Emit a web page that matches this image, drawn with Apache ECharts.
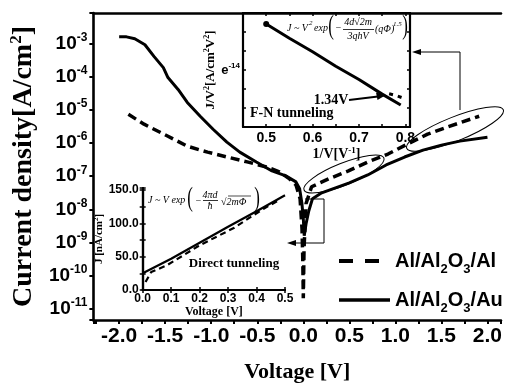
<!DOCTYPE html>
<html><head><meta charset="utf-8">
<script src="https://cdn.jsdelivr.net/npm/echarts@6/dist/echarts.min.js"></script>
<style>html,body{margin:0;padding:0;background:#fff}#c{width:505px;height:388px}</style>
</head><body><div id="c"></div>
<script>
// ---- main I-V data (current density in A/cm^2) ----
const auV = [-2.0, -1.92, -1.83, -1.72, -1.62, -1.52, -1.47, -1.36, -1.26, -1.12, -0.98, -0.83, -0.69, -0.51, -0.34, -0.19, -0.08, -0.04, -0.015, 0.0, 0.01, 0.03, 0.06, 0.1, 0.2, 0.35, 0.5, 0.7, 0.9, 1.1, 1.3, 1.5, 1.7, 2.0];
const auJ = [1.58e-3, 1.58e-3, 1.38e-3, 9.1e-4, 4.0e-4, 1.87e-4, 9.4e-5, 4.1e-5, 1.67e-5, 6.4e-6, 2.6e-6, 1.06e-6, 5.3e-7, 2.68e-7, 1.44e-7, 1.02e-7, 6.75e-8, 4.2e-8, 1.5e-8, 5.3e-9, 1.6e-9, 3.7e-9, 9.1e-9, 2.1e-8, 3.16e-8, 4.46e-8, 6.3e-8, 1.09e-7, 2.18e-7, 3.78e-7, 6.12e-7, 8.63e-7, 1.14e-6, 1.5e-6];
const alV = [-1.9, -1.73, -1.47, -1.26, -1.04, -0.83, -0.61, -0.40, -0.26, -0.15, -0.08, -0.035, -0.014, -0.006, 0.0, 0.008, 0.03, 0.09, 0.275, 0.49, 0.70, 0.92, 1.13, 1.35, 1.56, 1.91];
const alJ = [7.3e-6, 3.7e-6, 1.6e-6, 8.0e-7, 5.3e-7, 3.8e-7, 2.7e-7, 1.9e-7, 1.35e-7, 8.3e-8, 5.5e-8, 2.1e-8, 2.6e-9, 3.3e-10, 2.1e-11, 6.6e-10, 1.5e-8, 4.8e-8, 8.3e-8, 1.44e-7, 2.68e-7, 4.65e-7, 9.25e-7, 1.85e-6, 3.0e-6, 6.4e-6];
const seriesNames = ['Al/Al2O3/Al', 'Al/Al2O3/Au'];
const decadeExps = [-3, -4, -5, -6, -7, -8, -9, -10, -11];
// ---- F-N inset: 1/V vs ln(J/V^2) ----
const fnInvV = [0.5, 0.55, 0.6, 0.65, 0.7, 0.75, 0.79];
const fnLn = [-11.58, -12.33, -13.04, -13.80, -14.50, -15.27, -15.84];
const fnTailInvV = [0.765, 0.778, 0.792];
const fnTailLn = [-15.25, -15.33, -15.45];
// ---- direct tunneling inset: V vs J [nA/cm^2] ----
const dtSolidV = [0.0, 0.05, 0.1, 0.2, 0.3, 0.4, 0.5];
const dtSolidJ = [25, 36, 47, 71, 95, 118, 142];
const dtDashV = [0.01, 0.03, 0.085, 0.2, 0.32, 0.425, 0.48];
const dtDashJ = [12, 27, 37, 67, 93, 122, 135];

const toLog = (V, J) => V.map((v, i) => [v, Math.log10(J[i])]);
const pair = (a, b) => a.map((v, i) => [v, b[i]]);

const SANS = '"Liberation Sans", Arial, sans-serif';
const SERIF = '"Liberation Serif", "Times New Roman", serif';
const near = (v, step) => Math.abs(v / step - Math.round(v / step)) < 1e-6;

const chart = echarts.init(document.getElementById('c'), null, {renderer: 'canvas'});
const hidden = {show: false};
const boxAxis = (extra) => Object.assign({
  axisLine: {show: true, lineStyle: {color: '#000', width: 2.2}},
  axisTick: {show: true, inside: true, length: 3, lineStyle: {color: '#000', width: 1.5}},
  axisLabel: {show: false}, splitLine: hidden
}, extra);

const option = {
  animation: false,
  backgroundColor: '#fff',
  grid: [
    {left: 92, top: 13, right: 0, height: 309},
    {left: 243, top: 13, width: 167, height: 114, show: true, backgroundColor: '#fff', borderWidth: 0},
    {left: 142.7, top: 188, width: 142.3, height: 102, show: true, backgroundColor: '#fff', borderWidth: 0}
  ],
  xAxis: [
    {gridIndex: 0, type: 'value', position: 'bottom', min: -2.28, max: 2.147, minInterval: 0.25, maxInterval: 0.25,
      axisLine: {show: true, onZero: false, lineStyle: {color: '#000', width: 2.6}},
      axisTick: {show: true, inside: false, length: 4, lineStyle: {color: '#000', width: 2}},
      axisLabel: {margin: 6, color: '#000', fontFamily: SANS, fontWeight: 'bold', fontSize: 21,
        formatter: v => { const r = Math.round(v * 2) / 2; if (!near(v, 0.5) || r < -2 || r > 2) return ''; return r.toFixed(1); }},
      splitLine: hidden,
      name: 'Voltage [V]', nameLocation: 'middle', nameGap: 41,
      nameTextStyle: {color: '#000', fontFamily: SERIF, fontWeight: 'bold', fontSize: 22}},
    {gridIndex: 0, type: 'value', position: 'top', min: -2.28, max: 2.147,
      axisLine: {show: true, onZero: false, lineStyle: {color: '#000', width: 2.6}},
      axisTick: hidden, axisLabel: hidden, splitLine: hidden},
    boxAxis({gridIndex: 1, type: 'value', position: 'bottom', min: 0.45, max: 0.81, minInterval: 0.05, maxInterval: 0.05,
      axisLabel: {show: true, margin: 4, color: '#000', fontFamily: SANS, fontWeight: 'bold', fontSize: 14,
        formatter: v => (near(v, 0.1) && v > 0.46 && v < 0.805) ? v.toFixed(1) : ''},
      name: '1/V[V{s|-1}]', nameLocation: 'middle', nameGap: 13,
      nameTextStyle: {color: '#000', fontFamily: SERIF, fontWeight: 'bold', fontSize: 14, padding: [0, 0, 0, 20],
        rich: {s: {fontFamily: SERIF, fontWeight: 'bold', fontSize: 9, verticalAlign: 'top', lineHeight: 16}}}}),
    boxAxis({gridIndex: 1, type: 'value', position: 'top', min: 0.45, max: 0.81, minInterval: 0.05, maxInterval: 0.05}),
    boxAxis({gridIndex: 2, type: 'value', position: 'bottom', min: 0, max: 0.5, interval: 0.1,
      axisLabel: {show: true, margin: 3, color: '#000', fontFamily: SANS, fontWeight: 'bold', fontSize: 12,
        formatter: v => v.toFixed(1)},
      name: 'Voltage [V]', nameLocation: 'middle', nameGap: 15,
      nameTextStyle: {color: '#000', fontFamily: SERIF, fontWeight: 'bold', fontSize: 12}}),
    boxAxis({gridIndex: 2, type: 'value', position: 'top', min: 0, max: 0.5, interval: 0.1})
  ],
  yAxis: [
    {gridIndex: 0, type: 'value', position: 'left', min: -11.333, max: -2.083, minInterval: 1, maxInterval: 1,
      axisLine: {show: true, onZero: false, lineStyle: {color: '#000', width: 2.6}},
      axisTick: {show: true, inside: false, length: 4, lineStyle: {color: '#000', width: 2}},
      axisLabel: {margin: 6, color: '#000', fontFamily: SANS, fontWeight: 'bold', fontSize: 19,
        formatter: v => { const n = Math.round(v); if (!near(v, 1) || decadeExps.indexOf(n) < 0) return ''; return '{b|10}{s|' + n + '}'; },
        rich: {b: {fontFamily: SANS, fontWeight: 'bold', fontSize: 19, lineHeight: 24},
               s: {fontFamily: SANS, fontWeight: 'bold', fontSize: 12, lineHeight: 12, verticalAlign: 'top'}}},
      splitLine: hidden,
      name: 'Current density[A/cm{s|2}]', nameLocation: 'middle', nameGap: 44, nameRotate: 90,
      nameTextStyle: {color: '#000', fontFamily: SERIF, fontWeight: 'bold', fontSize: 28,
        rich: {s: {fontFamily: SERIF, fontWeight: 'bold', fontSize: 17, verticalAlign: 'top', lineHeight: 32}}}},
    boxAxis({gridIndex: 1, type: 'value', position: 'left', min: -17, max: -11, interval: 1,
      axisLabel: {show: true, margin: 3, color: '#000', fontFamily: SANS, fontWeight: 'bold', fontSize: 12,
        formatter: v => Math.abs(v + 14) < 1e-6 ? '{e|e}{s|-14}' : '',
        rich: {e: {fontFamily: SANS, fontWeight: 'bold', fontSize: 13, lineHeight: 16},
               s: {fontFamily: SANS, fontWeight: 'bold', fontSize: 8, lineHeight: 8, verticalAlign: 'top'}}},
      name: 'J/V{s|2}[A/cm{s|2}V{s|2}]', nameLocation: 'middle', nameGap: 23, nameRotate: 90,
      nameTextStyle: {color: '#000', fontFamily: SERIF, fontWeight: 'bold', fontSize: 13,
        rich: {s: {fontFamily: SERIF, fontWeight: 'bold', fontSize: 8, verticalAlign: 'top', lineHeight: 15}}}}),
    boxAxis({gridIndex: 1, type: 'value', position: 'right', min: -17, max: -11, interval: 1}),
    boxAxis({gridIndex: 2, type: 'value', position: 'left', min: 0, max: 153, interval: 25,
      axisLabel: {show: true, margin: 4, color: '#000', fontFamily: SANS, fontWeight: 'bold', fontSize: 12,
        formatter: v => near(v, 50) ? v.toFixed(1) : ''},
      name: 'J [nA/cm{s|2}]', nameLocation: 'middle', nameGap: 28, nameRotate: 90,
      nameTextStyle: {color: '#000', fontFamily: SERIF, fontWeight: 'bold', fontSize: 11,
        rich: {s: {fontFamily: SERIF, fontWeight: 'bold', fontSize: 7, verticalAlign: 'top', lineHeight: 13}}}}),
    boxAxis({gridIndex: 2, type: 'value', position: 'right', min: 0, max: 153, interval: 25})
  ],
  legend: {
    data: [
      {name: seriesNames[0], lineStyle: {type: [14, 12], width: 4}},
      {name: seriesNames[1], lineStyle: {width: 3.5}}
    ],
    orient: 'vertical', left: 332, top: 241, itemWidth: 51, itemHeight: 14, itemGap: 9,
    itemStyle: {opacity: 0, color: 'transparent', borderWidth: 0},
    formatter: n => n.replace(/(\d)/g, '{sub|$1}'),
    textStyle: {color: '#000', fontFamily: SANS, fontWeight: 'bold', fontSize: 20, lineHeight: 30,
      rich: {sub: {color: '#000', fontFamily: SANS, fontWeight: 'bold', fontSize: 13, lineHeight: 13, verticalAlign: 'bottom'}}}
  },
  series: [
    {name: seriesNames[0], type: 'line', xAxisIndex: 0, yAxisIndex: 0, data: toLog(alV, alJ), showSymbol: false, symbol: 'none',
      lineStyle: {color: '#000', width: 3.5, type: [9, 5]}, itemStyle: {color: '#000'}},
    {name: seriesNames[1], type: 'line', xAxisIndex: 0, yAxisIndex: 0, data: toLog(auV, auJ), showSymbol: false, symbol: 'none',
      lineStyle: {color: '#000', width: 3}, itemStyle: {color: '#000'}},
    {type: 'line', xAxisIndex: 2, yAxisIndex: 1, data: pair(fnInvV, fnLn), symbol: 'circle',
      symbolSize: (v, p) => p.dataIndex === 0 ? 6 : 0, itemStyle: {color: '#000'},
      lineStyle: {color: '#000', width: 3}},
    {type: 'line', xAxisIndex: 2, yAxisIndex: 1, data: pair(fnTailInvV, fnTailLn), symbol: 'none',
      lineStyle: {color: '#000', width: 3, type: [4, 5]}},
    {type: 'line', xAxisIndex: 4, yAxisIndex: 3, data: pair(dtSolidV, dtSolidJ), symbol: 'none',
      lineStyle: {color: '#000', width: 2.2}},
    {type: 'line', xAxisIndex: 4, yAxisIndex: 3, data: pair(dtDashV, dtDashJ), symbol: 'none',
      lineStyle: {color: '#000', width: 2.2, type: [6, 4]}}
  ],
  graphic: {elements: (function () {
    const F = 'italic 10px ' + SERIF;
    const t = (text, x, y, font, align) => ({type: 'text', x: x, y: y, z: 100,
      style: {text: text, font: font, fill: '#000', textAlign: align || 'left', textVerticalAlign: 'middle', verticalAlign: 'middle'}});
    const ln = (x1, y1, x2, y2, w) => ({type: 'line', z: 100, shape: {x1: x1, y1: y1, x2: x2, y2: y2}, style: {stroke: '#000', lineWidth: w || 1}});
    const big = (ch, x, y) => ({type: 'text', x: x, y: y, z: 100, scaleX: 0.6,
      style: {text: ch, font: '28px ' + SERIF, fill: '#000', textAlign: 'center', textVerticalAlign: 'middle', verticalAlign: 'middle'}});
    return [
      // formula F-N
      t('J ~ V', 287, 28, F), t('2', 309, 23, 'italic 7px ' + SERIF), t('exp', 314, 28, F),
      big('(', 331, 27), t('\u2212', 335, 28, F),
      t('4d\u221A2m', 358, 22, F, 'center'), ln(343, 29.5, 374, 29.5, 0.8), t('3qhV', 358, 36, F, 'center'),
      t('(q\u03A6)', 375, 29, F), t('1.5', 393, 24, 'italic 7px ' + SERIF),
      big(')', 405, 27),
      t('F-N tunneling', 250, 113, 'bold 14px ' + SERIF),
      t('1.34V', 331, 100, 'bold 14px ' + SERIF, 'center'),
      ln(349, 100, 378, 96.5, 2),
      {type: 'polygon', z: 100, shape: {points: [[386, 95], [376, 92.5], [377.5, 100]]}, style: {fill: '#000'}},
      // formula direct
      t('J ~ V exp', 148, 200, F), big('(', 190, 199), t('\u2212', 195, 201, F),
      t('4\u03C0d', 210, 195, F, 'center'), ln(203, 200.5, 218, 200.5, 0.8), t('\u0127', 210, 206, F, 'center'),
      t('\u221A2m\u03A6', 221, 202, F), ln(228, 196, 251, 196, 0.7),
      big(')', 257, 199),
      t('Direct tunneling', 234, 264, 'bold 13px ' + SERIF, 'center'),
      // ellipses and arrows
      {type: 'ellipse', x: 344, y: 174, rotation: 0.38, z: 100, shape: {cx: 0, cy: 0, rx: 43, ry: 11}, style: {fill: null, stroke: '#000', lineWidth: 1}},
      {type: 'ellipse', x: 455, y: 129, rotation: 0.38, z: 100, shape: {cx: 0, cy: 0, rx: 52, ry: 12}, style: {fill: null, stroke: '#000', lineWidth: 1}},
      {type: 'polyline', z: 100, shape: {points: [[460, 110], [460, 52], [419, 52]]}, style: {stroke: '#000', fill: null, lineWidth: 1}},
      {type: 'polygon', z: 100, shape: {points: [[412, 52], [421, 49], [421, 55]]}, style: {fill: '#000'}},
      {type: 'polyline', z: 100, shape: {points: [[305, 199], [324, 199], [324, 243], [294, 243]]}, style: {stroke: '#000', fill: null, lineWidth: 1}},
      {type: 'polygon', z: 100, shape: {points: [[287, 243], [296, 240], [296, 246]]}, style: {fill: '#000'}}
    ];
  })()}
};
chart.setOption(option);
</script>
</body></html>
